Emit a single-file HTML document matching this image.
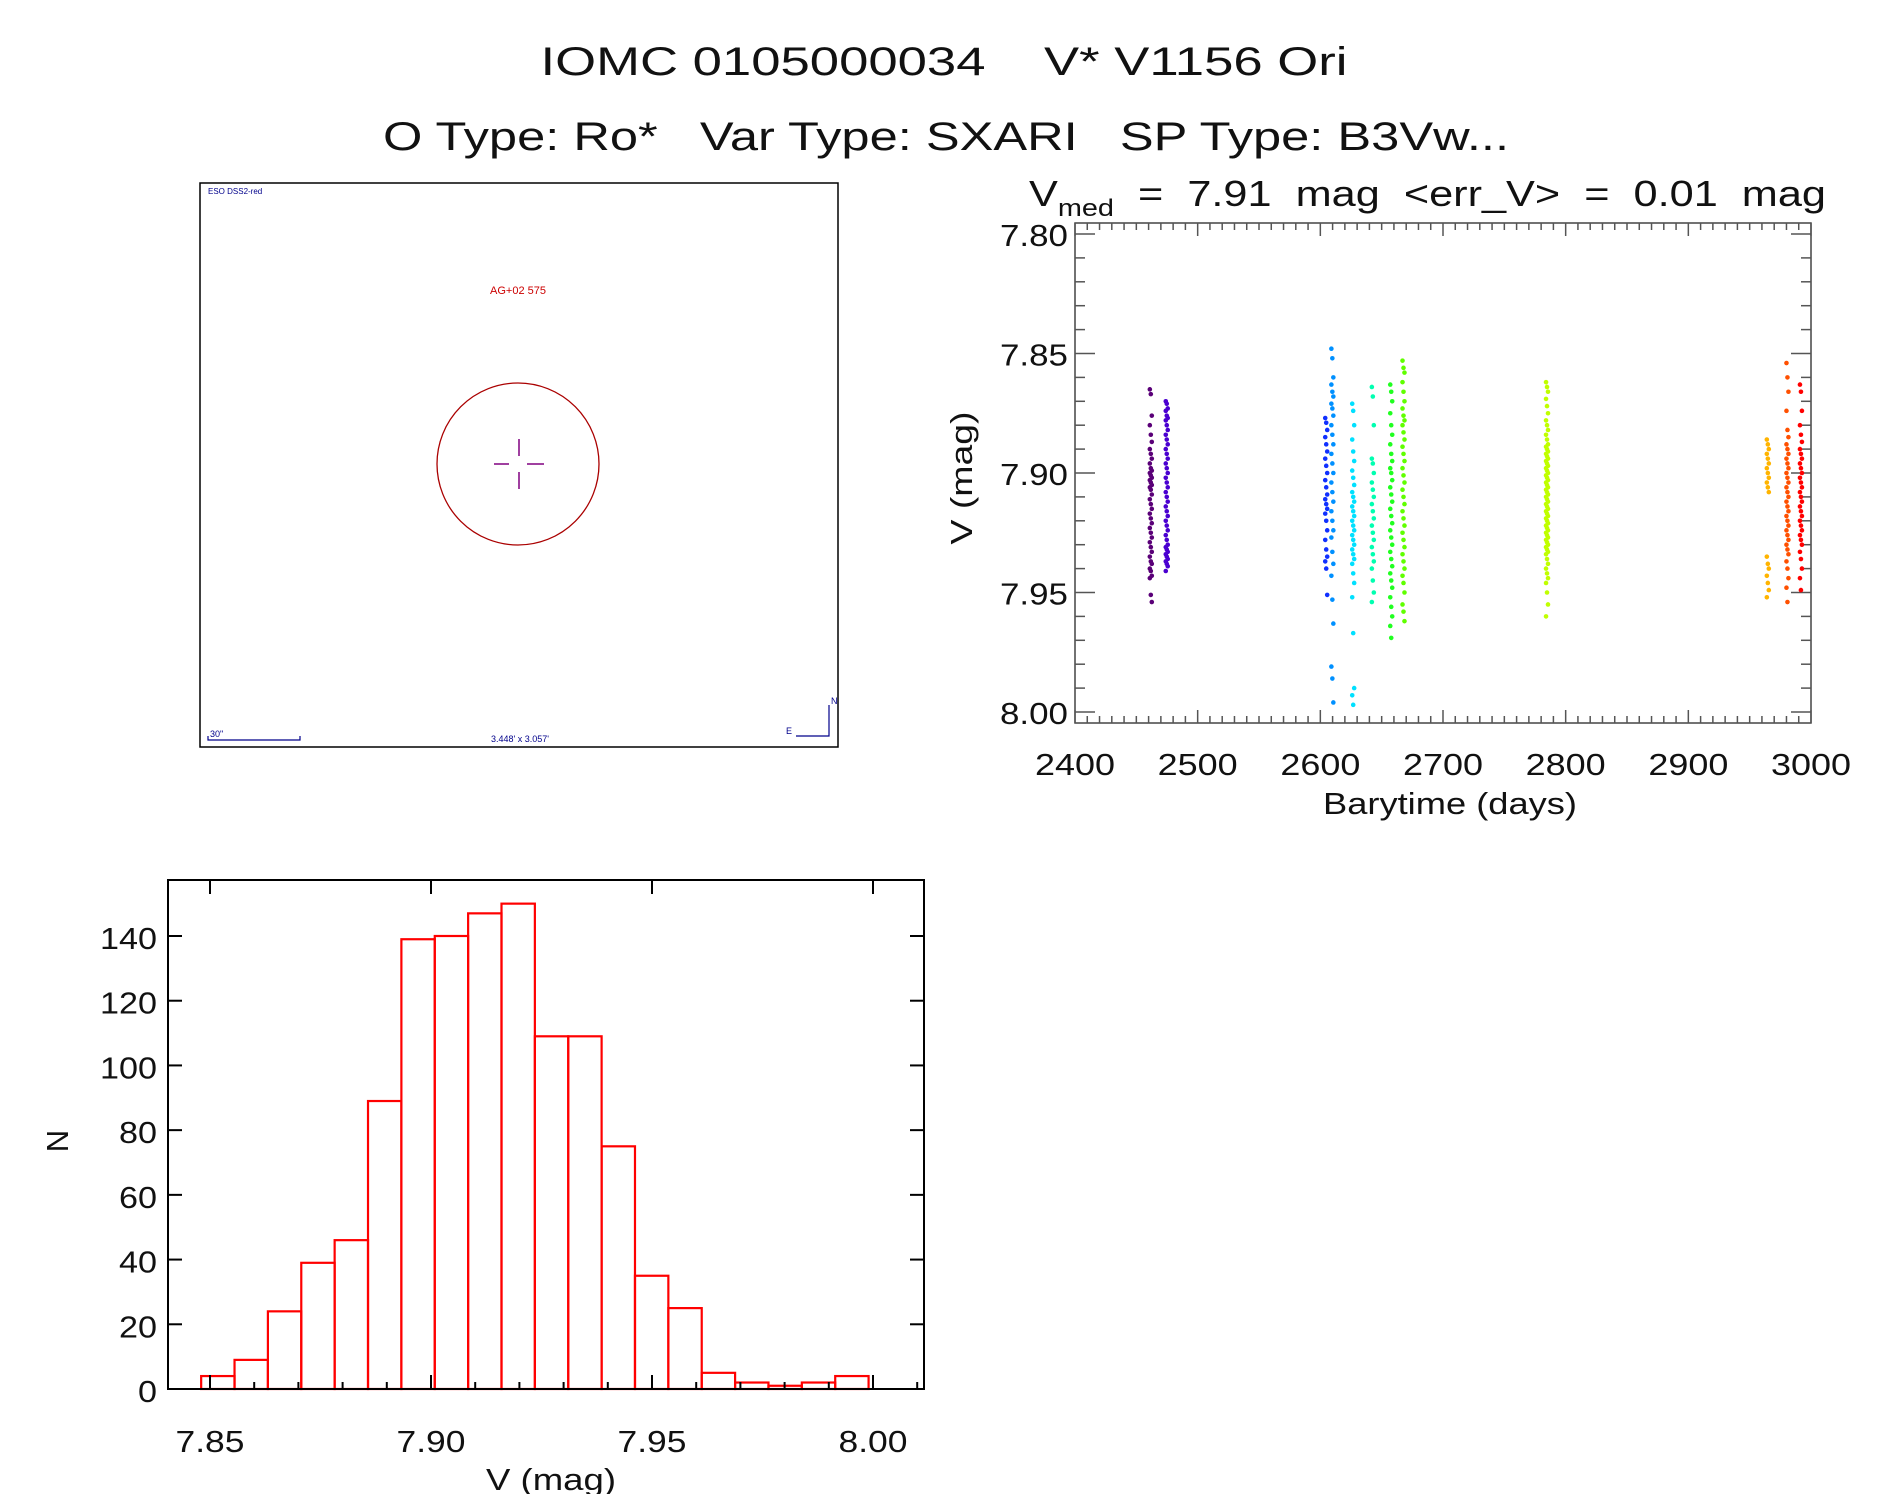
<!DOCTYPE html>
<html><head><meta charset="utf-8"><style>
html,body{margin:0;padding:0;background:#fff;}
svg{display:block;font-family:"Liberation Sans",sans-serif;}
text{white-space:pre;}
</style></head><body>
<svg id="root" width="1889" height="1494" viewBox="0 0 1889 1494" xmlns="http://www.w3.org/2000/svg" xml:space="preserve">
<rect width="1889" height="1494" fill="#fff"/>
<text x="944" y="75" font-size="40" fill="#111" text-anchor="middle" textLength="807" lengthAdjust="spacingAndGlyphs">IOMC 0105000034    V* V1156 Ori</text>
<text x="946" y="150" font-size="40" fill="#111" text-anchor="middle" textLength="1126" lengthAdjust="spacingAndGlyphs">O Type: Ro*   Var Type: SXARI   SP Type: B3Vw...</text>

<g>
<rect x="200" y="183" width="638" height="564" fill="#fff" stroke="#000" stroke-width="1.5"/>
<text x="208" y="194" font-size="8" fill="#00008b">ESO DSS2-red</text>
<text x="518" y="294" font-size="11" fill="#c00" text-anchor="middle">AG+02 575</text>
<ellipse cx="518" cy="464" rx="81" ry="81" fill="none" stroke="#a00" stroke-width="1.3"/>
<g stroke="#800080" stroke-width="1.5">
<line x1="494" y1="464" x2="509" y2="464"/><line x1="527" y1="464" x2="544" y2="464"/>
<line x1="519" y1="439" x2="519" y2="456"/><line x1="519" y1="472" x2="519" y2="489"/></g>
<g stroke="#00008b" stroke-width="1.2" fill="none"><polyline points="208,736 208,740 300,740 300,736"/></g>
<text x="210" y="737" font-size="9" fill="#00008b">30"</text>
<text x="520" y="742" font-size="9" fill="#00008b" text-anchor="middle">3.448' x 3.057'</text>
<g stroke="#00008b" stroke-width="1.2" fill="none"><polyline points="796,736 829,736 829,705"/></g>
<text x="831" y="704" font-size="9" fill="#00008b">N</text>
<text x="786" y="734" font-size="9" fill="#00008b">E</text>
</g>

<g id="lc"></g>
<g id="hist"></g>
</svg>
<script>
// ---- Light curve data ----
const lcTimes = [2461, 2474, 2604, 2609, 2626, 2642, 2657, 2667, 2784, 2964, 2980, 2991];
const lcColors = ["#5a0078","#4a00d0","#1030ff","#0090ff","#00e0ff","#00ffb0","#20ff20","#60ff00","#c0ff00","#ffb400","#ff5000","#ff0000"];
const lcMags = [
[7.865,7.867,7.876,7.880,7.884,7.887,7.890,7.892,7.894,7.896,7.898,7.899,7.900,7.901,7.902,7.903,7.904,7.905,7.906,7.907,7.909,7.911,7.913,7.915,7.917,7.919,7.921,7.923,7.925,7.927,7.929,7.931,7.933,7.935,7.937,7.938,7.940,7.941,7.943,7.944,7.951,7.954],
[7.870,7.871,7.873,7.874,7.876,7.877,7.878,7.880,7.882,7.884,7.886,7.888,7.890,7.892,7.894,7.896,7.898,7.900,7.902,7.904,7.906,7.908,7.910,7.912,7.914,7.916,7.918,7.920,7.922,7.924,7.926,7.928,7.930,7.931,7.932,7.933,7.934,7.935,7.936,7.937,7.938,7.939,7.941],
[7.877,7.879,7.882,7.885,7.888,7.891,7.894,7.897,7.900,7.903,7.906,7.909,7.911,7.913,7.915,7.917,7.920,7.924,7.928,7.932,7.935,7.937,7.940,7.951],
[7.848,7.852,7.860,7.863,7.866,7.868,7.871,7.873,7.876,7.880,7.884,7.888,7.892,7.896,7.900,7.904,7.908,7.912,7.916,7.920,7.924,7.927,7.933,7.938,7.943,7.953,7.963,7.981,7.986,7.996],
[7.871,7.874,7.880,7.886,7.891,7.895,7.899,7.902,7.905,7.908,7.910,7.912,7.914,7.916,7.918,7.920,7.922,7.924,7.926,7.928,7.930,7.932,7.934,7.936,7.938,7.942,7.946,7.952,7.967,7.990,7.993,7.997],
[7.864,7.868,7.880,7.894,7.896,7.900,7.904,7.907,7.910,7.913,7.916,7.919,7.922,7.925,7.928,7.931,7.934,7.937,7.940,7.945,7.950,7.954],
[7.863,7.866,7.870,7.875,7.880,7.884,7.888,7.892,7.895,7.898,7.900,7.903,7.906,7.909,7.912,7.915,7.918,7.921,7.924,7.927,7.930,7.933,7.936,7.939,7.942,7.945,7.948,7.952,7.956,7.960,7.964,7.969],
[7.853,7.856,7.858,7.862,7.866,7.870,7.873,7.876,7.878,7.880,7.883,7.886,7.889,7.892,7.895,7.898,7.901,7.904,7.907,7.910,7.913,7.916,7.919,7.922,7.925,7.928,7.931,7.934,7.937,7.940,7.943,7.946,7.950,7.955,7.958,7.962],
[7.862,7.864,7.866,7.869,7.872,7.875,7.878,7.880,7.882,7.884,7.886,7.888,7.889,7.890,7.891,7.892,7.893,7.894,7.895,7.896,7.897,7.898,7.899,7.900,7.901,7.902,7.903,7.904,7.905,7.906,7.907,7.908,7.909,7.910,7.911,7.912,7.913,7.914,7.915,7.916,7.917,7.918,7.919,7.920,7.921,7.922,7.923,7.924,7.925,7.926,7.927,7.928,7.929,7.930,7.931,7.932,7.933,7.934,7.936,7.938,7.940,7.942,7.944,7.946,7.950,7.955,7.960],
[7.886,7.888,7.890,7.892,7.894,7.896,7.898,7.900,7.902,7.904,7.906,7.908,7.935,7.938,7.940,7.943,7.946,7.949,7.952],
[7.854,7.860,7.866,7.874,7.882,7.885,7.888,7.890,7.892,7.894,7.896,7.898,7.900,7.902,7.904,7.906,7.908,7.910,7.912,7.914,7.916,7.918,7.920,7.922,7.924,7.926,7.928,7.930,7.932,7.934,7.937,7.940,7.944,7.948,7.954],
[7.863,7.866,7.874,7.880,7.884,7.887,7.890,7.892,7.894,7.896,7.898,7.900,7.902,7.904,7.906,7.908,7.910,7.912,7.914,7.916,7.918,7.920,7.922,7.924,7.926,7.928,7.930,7.933,7.936,7.940,7.944,7.949]
];
const lcXTicks = [2400,2500,2600,2700,2800,2900,3000];
const lcYTicks = ["7.80","7.85","7.90","7.95","8.00"];

// ---- Histogram data ----
const histStart = 7.848;
const histBinWidth = 0.00755;
const histCounts = [4,9,24,39,46,89,139,140,147,150,109,109,75,35,25,5,2,1,2,4];
const histXTicks = ["7.85","7.90","7.95","8.00"];
const histYTicks = [0,20,40,60,80,100,120,140];

const NS = "http://www.w3.org/2000/svg";
function mk(parent, tag, attrs, text){
  const e = document.createElementNS(NS, tag);
  for (const k in attrs) e.setAttribute(k, attrs[k]);
  if (text !== undefined) e.textContent = text;
  parent.appendChild(e);
  return e;
}

// ===== Light curve =====
(function(){
  const g = document.getElementById('lc');
  const L=1075, R=1811, T=223, B=723;
  const xs = t => L + (t-2400)/600*(R-L);
  const ys = m => 234 + (m-7.80)/0.20*(712-234);
  const frame = mk(g,'rect',{x:L,y:T,width:R-L,height:B-T,fill:'none',stroke:'#444','stroke-width':1.5});
  
  
  const tk = mk(g,'g',{stroke:'#555','stroke-width':1.5});
  
  
  for (let t=2400; t<=3000; t+=10){
    const x=xs(t); const len = (t%100===0)?13:7;
    mk(tk,'line',{x1:x,y1:B,x2:x,y2:B-len});
    mk(tk,'line',{x1:x,y1:T,x2:x,y2:T+len});
  }
  for (let i=0;i<=20;i++){
    const y = ys(7.80+i*0.01); const len=(i%5===0)?20:10;
    mk(tk,'line',{x1:L,y1:y,x2:L+len,y2:y});
    mk(tk,'line',{x1:R,y1:y,x2:R-len,y2:y});
  }
  lcXTicks.forEach(v=>{
    const t = mk(g,'text',{x:xs(v),y:775,'font-size':31,fill:'#111','text-anchor':'middle',textLength:80,lengthAdjust:'spacingAndGlyphs'},String(v));
    
    
  });
  lcYTicks.forEach(v=>{
    const t = mk(g,'text',{x:1068,y:ys(parseFloat(v))+12,'font-size':31,fill:'#111','text-anchor':'end',textLength:68,lengthAdjust:'spacingAndGlyphs'},v);
    
    
  });
  const xt = mk(g,'text',{x:1450,y:814,'font-size':31,fill:'#111','text-anchor':'middle',textLength:254,lengthAdjust:'spacingAndGlyphs'},'Barytime (days)');
  
  
  const yt = mk(g,'text',{x:0,y:0,'font-size':31,fill:'#111','text-anchor':'middle',textLength:133,lengthAdjust:'spacingAndGlyphs',transform:'translate(972,478) rotate(-90)'},'V (mag)');
  
  
  const tt = mk(g,'text',{x:1029,y:206,'font-size':36,fill:'#111'});
  
  
  mk(tt,'tspan',{},'V');
  mk(tt,'tspan',{'font-size':24,dy:10},'med');
  mk(tt,'tspan',{dy:-10},'  =  7.91  mag  <err_V>  =  0.01  mag');
  tt.setAttribute('textLength',797);
  tt.setAttribute('lengthAdjust','spacingAndGlyphs');
  lcMags.forEach((arr,gi)=>{
    const sg = mk(g,'g',{fill:lcColors[gi]});
    
    
    arr.forEach((m,j)=>{
      const c = mk(sg,'circle',{cx:xs(lcTimes[gi]+(j%3)*0.8),cy:ys(m),r:2.3});
      
      
    });
  });
})();

// ===== Histogram =====
(function(){
  const g = document.getElementById('hist');
  const L=168, R=924, T=880, B=1389;
  const xs = v => 210 + (v-7.85)/0.15*(873-210);
  const ys = n => B - n*(B-936)/140;
  histCounts.forEach((n,i)=>{
    const x0 = xs(histStart+i*histBinWidth), x1 = xs(histStart+(i+1)*histBinWidth);
    const r = mk(g,'rect',{x:x0,y:ys(n),width:x1-x0,height:B-ys(n),fill:'none',stroke:'#ff0000','stroke-width':2.2});
    
    
  });
  const frame = mk(g,'path',{d:`M${L},${T}H${R}V${B}H${L}Z`,fill:'none',stroke:'#000','stroke-width':2});
  
  
  const tk = mk(g,'g',{stroke:'#000','stroke-width':2});
  
  
  for (let i=0;i<=16;i++){
    const v = 7.85+i*0.01; const x=xs(v); if (x>R) break;
    const major = (i%5===0);
    mk(tk,'line',{x1:x,y1:B,x2:x,y2:B-(major?14:7)});
    if (major) mk(tk,'line',{x1:x,y1:T,x2:x,y2:T+14});
  }
  histYTicks.forEach(v=>{
    const y=ys(v);
    mk(tk,'line',{x1:L,y1:y,x2:L+14,y2:y});
    mk(tk,'line',{x1:R,y1:y,x2:R-14,y2:y});
    const t = mk(g,'text',{x:157,y:y+13,'font-size':31,fill:'#111','text-anchor':'end',textLength:String(v).length*19,lengthAdjust:'spacingAndGlyphs'},String(v));
    
    
  });
  histXTicks.forEach(v=>{
    const t = mk(g,'text',{x:xs(parseFloat(v)),y:1452,'font-size':31,fill:'#111','text-anchor':'middle',textLength:69,lengthAdjust:'spacingAndGlyphs'},v);
    
    
  });
  const xt = mk(g,'text',{x:551,y:1490,'font-size':31,fill:'#111','text-anchor':'middle',textLength:130,lengthAdjust:'spacingAndGlyphs'},'V (mag)');
  
  
  const yt = mk(g,'text',{x:0,y:0,'font-size':31,fill:'#111','text-anchor':'middle',transform:'translate(68,1141) rotate(-90)'},'N');
  
  
})();
</script>
</body></html>
